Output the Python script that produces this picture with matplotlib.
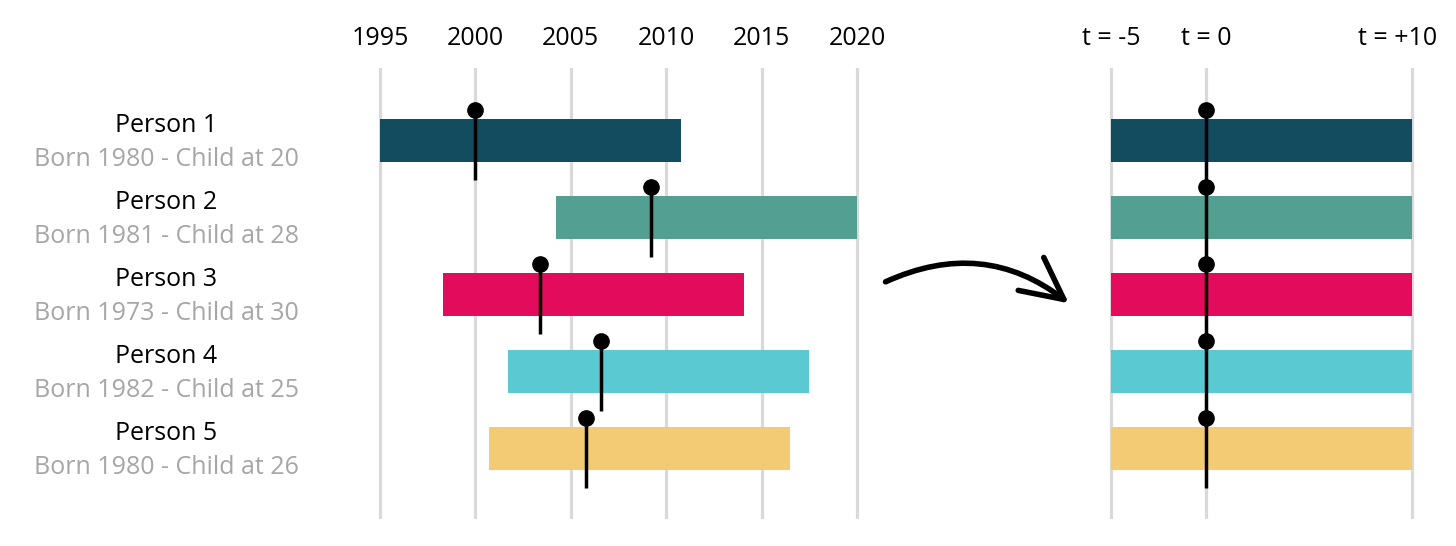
import matplotlib.pyplot as plt
import matplotlib.transforms as mtransforms
from matplotlib.patches import FancyArrowPatch

plt.rcParams['font.family'] = ['Open Sans', 'DejaVu Sans']

# dados
pessoas = ['Person 1', 'Person 2', 'Person 3', 'Person 4', 'Person 5']
nascimento = [1980, 1981, 1973, 1982, 1980]
idade_filho = [20, 28, 30, 25, 26]
inicio = [1995.0, 2004.2, 1998.3, 2001.7, 2000.7]   # inicio da barra (ano)
fim = [2010.8, 2020.0, 2014.1, 2017.5, 2016.5]      # fim da barra (ano)
evento = [2000.0, 2009.2, 2003.4, 2006.6, 2005.8]   # ano do nascimento do filho
cores = ['#134b5f', '#539f91', '#e30b5c', '#5bc9d1', '#f2cb74']

anos = [1995, 2000, 2005, 2010, 2015, 2020]
t_ticks = [-5, 0, 10]
t_labels = ['t = -5', 't = 0', 't = +10']
t_inicio, t_fim = -5, 10.75

W, H = 1456, 546
fig = plt.figure(figsize=(W / 100, H / 100), dpi=100)

px_ano = 19.08
y_top, y_bot = 68, 519
linha0, passo = 140.5, 77.0
ylim = (4 + (y_bot - 448.5) / passo, -(linha0 - y_top) / passo)


def eixo(x0, x1):
    return fig.add_axes([x0 / W, 1 - y_bot / H, (x1 - x0) / W, (y_bot - y_top) / H])


ax1 = eixo(380 - px_ano, 380 + 26 * px_ano)
ax1.set_xlim(1994, 2021)
ax2 = eixo(1111 - px_ano, 1111 + 16 * px_ano)
ax2.set_xlim(-6, 11)

cinza = '#d9d9d9'
alt = 0.57
dy_ponto, dy_fim = 0.40, 0.51
y = list(range(len(pessoas)))

for ax in (ax1, ax2):
    ax.set_ylim(*ylim)
    ax.set_yticks([])
    for s in ax.spines.values():
        s.set_visible(False)
    ax.xaxis.tick_top()
    ax.tick_params(axis='x', length=0, pad=12, labelsize=18)

# painel esquerdo: anos de calendario
for a in anos:
    ax1.axvline(a, color=cinza, lw=2.3, zorder=0)
ax1.set_xticks(anos)
ax1.barh(y, [f - i for i, f in zip(inicio, fim)], left=inicio, height=alt,
         color=cores, zorder=2)
for yi, e in zip(y, evento):
    ax1.plot([e, e], [yi - dy_ponto, yi + dy_fim], color='black', lw=2.5,
             solid_capstyle='butt', zorder=3)
    ax1.plot(e, yi - dy_ponto, 'o', color='black', ms=11, zorder=4)

# painel direito: tempo relativo ao evento
for t in (t_inicio, 0, t_fim):
    ax2.axvline(t, color=cinza, lw=2.3, zorder=0)
ax2.set_xticks(t_ticks)
ax2.set_xticklabels(t_labels)
ax2.barh(y, t_fim - t_inicio, left=t_inicio, height=alt, color=cores, zorder=2)
ax2.plot([0, 0], [y[0] - dy_ponto, y[-1] + dy_fim], color='black', lw=2.5,
         solid_capstyle='butt', zorder=3)
ax2.plot([0] * len(y), [yi - dy_ponto for yi in y], 'o', color='black', ms=11,
         zorder=4)

# rotulos das pessoas
trans = mtransforms.blended_transform_factory(fig.transFigure, ax1.transData)
for yi, p, n, c in zip(y, pessoas, nascimento, idade_filho):
    fig.text(166 / W, yi - 0.11, p, transform=trans, ha='center',
             va='baseline', fontsize=18, color='black')
    fig.text(166 / W, yi + 0.33, f'Born {n} - Child at {c}', transform=trans,
             ha='center', va='baseline', fontsize=18, color='#a6a6a6')

# seta entre os paineis
seta = FancyArrowPatch((883 / W, 1 - 283 / H), (1071 / W, 1 - 305 / H),
                       transform=fig.transFigure,
                       connectionstyle='arc3,rad=-0.31',
                       arrowstyle='->,head_length=1.5,head_width=0.75',
                       mutation_scale=20, lw=4, color='black',
                       capstyle='round', joinstyle='round')
fig.add_artist(seta)

fig.savefig('out.png', dpi=100)
